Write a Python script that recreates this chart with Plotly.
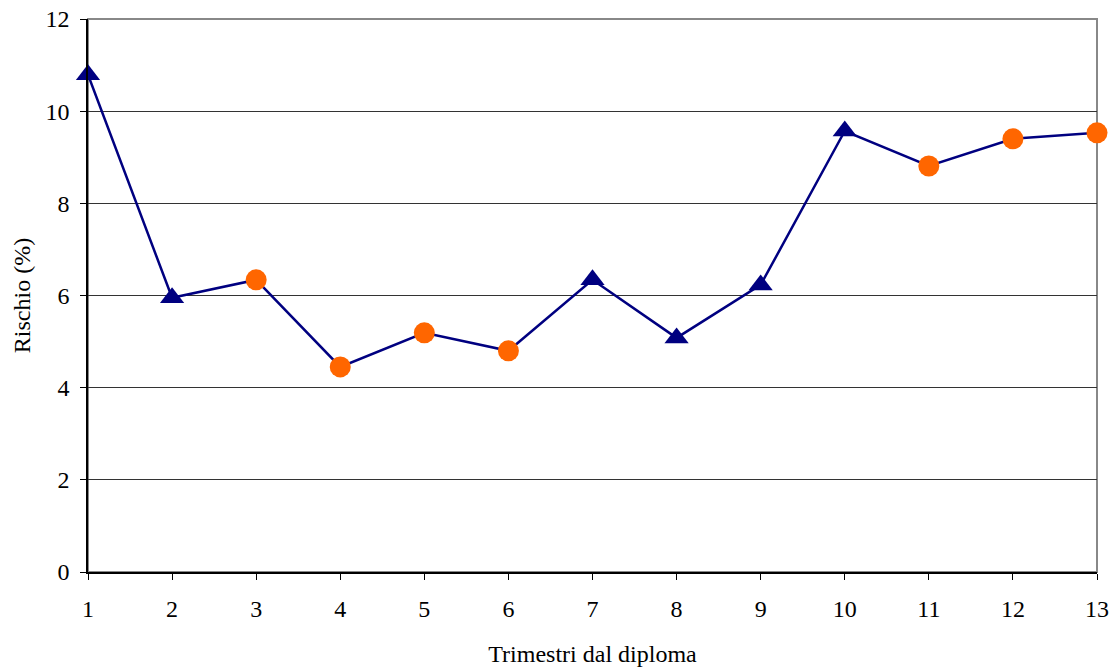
import plotly.graph_objects as go

# Trimestri dal diploma e rischio (%)
trimestri = [1, 2, 3, 4, 5, 6, 7, 8, 9, 10, 11, 12, 13]
rischio = [10.79, 5.95, 6.34, 4.45, 5.19, 4.80, 6.34, 5.08, 6.23, 9.57, 8.81, 9.40, 9.53]
# tipo di marcatore per ogni punto: "t" triangolo, "c" cerchio
tipo = ["t", "t", "c", "c", "c", "c", "t", "t", "t", "t", "c", "c", "c"]
yticks = [0, 2, 4, 6, 8, 10, 12]

navy = "#000080"
orange = "#FF6600"

tri_x = [x for x, k in zip(trimestri, tipo) if k == "t"]
tri_y = [y for y, k in zip(rischio, tipo) if k == "t"]
cir_x = [x for x, k in zip(trimestri, tipo) if k == "c"]
cir_y = [y for y, k in zip(rischio, tipo) if k == "c"]

fig = go.Figure()
fig.add_trace(go.Scatter(x=trimestri, y=rischio, mode="lines",
                         line=dict(color=navy, width=2.5), cliponaxis=False,
                         showlegend=False, hoverinfo="skip"))
fig.add_trace(go.Scatter(x=tri_x, y=tri_y, mode="markers", cliponaxis=False,
                         marker=dict(symbol="triangle-up", size=21, color=navy,
                                     line=dict(width=0)),
                         showlegend=False))
fig.add_trace(go.Scatter(x=cir_x, y=cir_y, mode="markers", cliponaxis=False,
                         marker=dict(symbol="circle", size=21, color=orange,
                                     line=dict(width=0)),
                         showlegend=False))

tickfont = dict(family="Liberation Serif", size=24, color="black")

fig.update_layout(
    width=1111, height=667,
    margin=dict(l=88, r=14, t=19, b=95),
    paper_bgcolor="white", plot_bgcolor="white",
    font=dict(family="Liberation Serif", size=20, color="black"),
    shapes=[dict(type="rect", xref="paper", yref="paper", x0=0, y0=0, x1=1, y1=1,
                 line=dict(color="#888888", width=2), layer="below")],
)
fig.update_xaxes(range=[1, 13], tickvals=trimestri, ticks="outside", ticklen=6,
                 tickcolor="black", showgrid=False, zeroline=False,
                 showline=True, linecolor="black", linewidth=1.5,
                 ticklabelstandoff=8, automargin=False, tickfont=tickfont,
                 title=dict(text="Trimestri dal diploma", standoff=25))
fig.update_yaxes(range=[0, 12], tickvals=yticks, ticks="outside",
                 ticklen=6, tickcolor="black", showgrid=True, gridcolor="#333333",
                 gridwidth=1, zeroline=False, showline=True, linecolor="black",
                 linewidth=1.5, ticklabelstandoff=6, automargin=False,
                 tickfont=tickfont,
                 title=dict(text="Rischio (%)", standoff=8))

fig.write_html("out.html")
